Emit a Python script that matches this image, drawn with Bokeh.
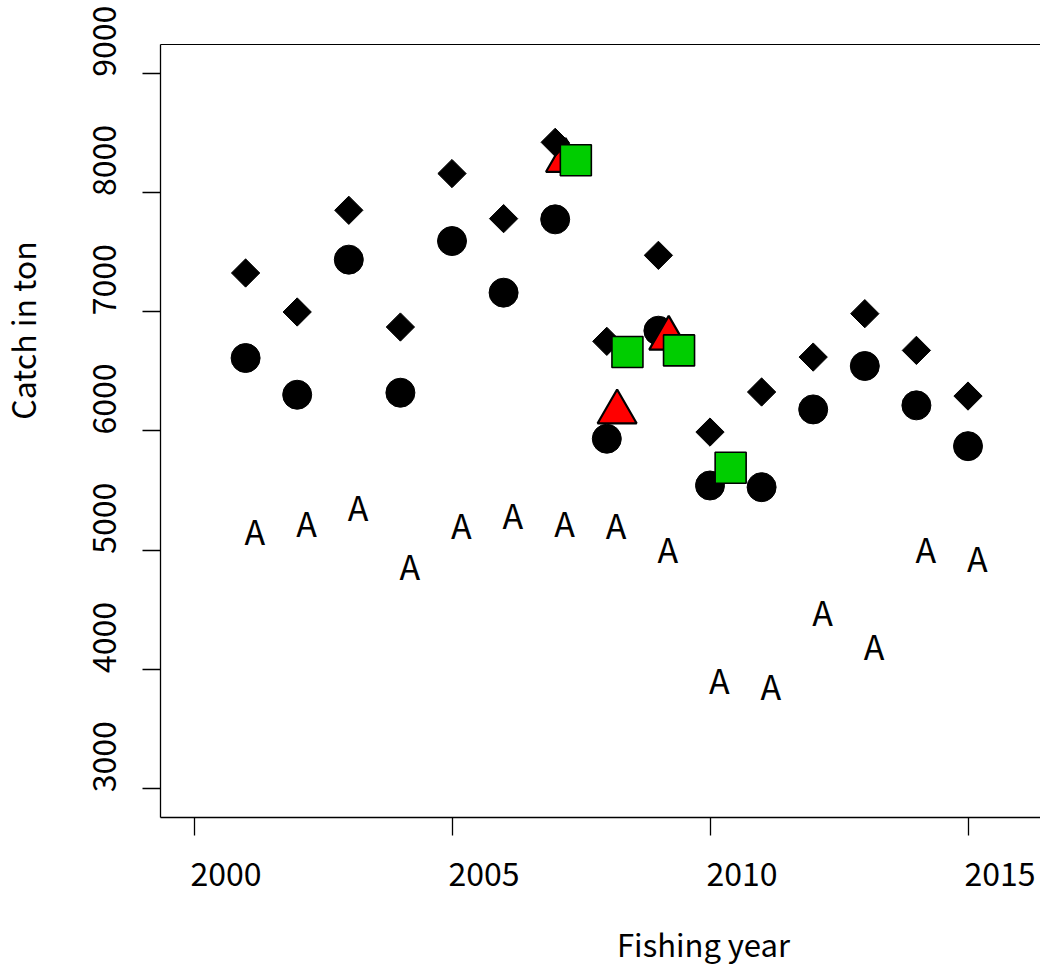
import math
from bokeh.plotting import figure
from bokeh.models import (Range1d, FixedTicker, LinearAxis, Label, ColumnDataSource,
                          CustomJSTickFormatter)
from bokeh.core.properties import value
from bokeh.embed import file_html
from bokeh.resources import INLINE

# ---- data ----
years = [2001, 2002, 2003, 2004, 2005, 2006, 2007, 2008, 2009, 2010, 2011, 2012, 2013, 2014, 2015]
diamond_catch = [7324, 6997, 7850, 6871, 8158, 7780, 8420, 6751, 7472, 5990, 6326, 6619, 6983, 6675, 6292]
circle_catch = [6611, 6303, 7436, 6320, 7592, 7159, 7774, 5934, 6840, 5542, 5528, 6180, 6544, 6214, 5872]
a_catch = [5137, 5205, 5337, 4843, 5188, 5270, 5205, 5188, 4990, 3894, 3843, 4464, 4171, 4990, 4909]
tri_years = [2007, 2008, 2009]
tri_catch = [8267, 6158, 6776]
sq_years = [2007, 2008, 2009, 2010]
sq_catch = [8270, 6661, 6675, 5691]
x_ticks = [2000, 2005, 2010, 2015]
y_ticks = [3000, 4000, 5000, 6000, 7000, 8000, 9000]

# horizontal dodge of the series (years)
tri_shift = 0.2
sq_shift = 0.4

# plot box (R usr limits: xlim 2000-2016, ylim 3000-9000 with 4% expansion)
box_x0, box_x1 = 1999.36, 2016.405
box_y0, box_y1 = 2760, 9240

# tick labels in the reference start at the tick (not centred on it)
x_lab_shift = 0.62     # years
y_lab_shift = 565.0    # tons

FONT = "Noto Sans CJK JP"

p = figure(width=1040, height=973, title=None,
           x_range=Range1d(1996.250, 2016.405), y_range=Range1d(1449.4, 9609.3),
           output_backend="svg", toolbar_location=None,
           min_border_left=0, min_border_right=0, min_border_top=0, min_border_bottom=0)
p.xgrid.visible = False
p.ygrid.visible = False
p.outline_line_color = None
p.background_fill_color = "white"
p.border_fill_color = "white"


def style_axis(ax):
    ax.axis_line_color = "black"
    ax.axis_line_width = 1.3
    ax.major_tick_line_color = "black"
    ax.major_tick_line_width = 1.3
    ax.major_tick_out = 18
    ax.major_tick_in = 0
    ax.minor_tick_out = 0
    ax.minor_tick_in = 0
    ax.major_label_text_font = FONT
    ax.major_label_text_font_size = "32px"
    ax.major_label_text_color = "black"


# main axes: line + tick marks
xa = p.xaxis[0]
style_axis(xa)
xa.ticker = FixedTicker(ticks=x_ticks)
xa.fixed_location = box_y0
xa.bounds = (box_x0, box_x1)
xa.major_label_text_color = None

ya = p.yaxis[0]
style_axis(ya)
ya.ticker = FixedTicker(ticks=y_ticks)
ya.fixed_location = box_x0
ya.bounds = (box_y0, box_y1)
ya.major_label_text_color = None

# tick-label axes (labels start at the tick, like the reference)
xl = LinearAxis(ticker=FixedTicker(ticks=[t + x_lab_shift for t in x_ticks]),
                formatter=CustomJSTickFormatter(code="return String(Math.round(tick - %r));" % x_lab_shift),
                fixed_location=box_y0)
style_axis(xl)
xl.axis_line_color = None
xl.major_tick_line_color = None
xl.major_label_standoff = 27
p.add_layout(xl, "below")

yl = LinearAxis(ticker=FixedTicker(ticks=[t + y_lab_shift for t in y_ticks]),
                formatter=CustomJSTickFormatter(code="return String(Math.round((tick - %r)/1000)*1000);" % y_lab_shift),
                fixed_location=box_x0)
style_axis(yl)
yl.axis_line_color = None
yl.major_tick_line_color = None
yl.major_label_orientation = math.pi / 2
yl.major_label_standoff = 39
p.add_layout(yl, "left")

top = LinearAxis(ticker=FixedTicker(ticks=[]), fixed_location=box_y1, bounds=(box_x0, box_x1),
                 major_tick_out=0, major_tick_in=0, minor_tick_out=0, minor_tick_in=0,
                 major_label_text_font_size="0px", axis_line_color="black", axis_line_width=1)
p.add_layout(top, "above")

# circles
p.scatter(years, circle_catch, marker="circle", size=29, fill_color="black", line_color="black")
# triangles
p.scatter([y + tri_shift for y in tri_years], tri_catch, marker="triangle", size=39,
          fill_color="#FF0000", line_color="black", line_width=2.2)
# diamonds
p.scatter(years, diamond_catch, marker="square", angle=math.pi / 4, size=20,
          fill_color="black", line_color="black")
# squares
p.scatter([y + sq_shift for y in sq_years], sq_catch, marker="square", size=31,
          fill_color="#00CD00", line_color="black", line_width=1.6)
# "A" characters (left-aligned at the year)
src = ColumnDataSource(dict(x=years, y=a_catch, t=["A"] * len(years)))
p.text(x="x", y="y", text="t", source=src, text_font=value(FONT), text_font_size="34px",
       text_align="left", text_baseline="middle", x_offset=-1, y_offset=-3, text_color="black")

# axis titles
p.add_layout(Label(x=1996.676, y=6841.8, text="Catch in ton", angle=math.pi / 2,
                   text_font=FONT, text_font_size="32px", text_align="center",
                   text_baseline="middle", text_color="black"))
p.add_layout(Label(x=2009.874, y=1700, text="Fishing year",
                   text_font=FONT, text_font_size="31px", text_align="center",
                   text_baseline="middle", text_color="black"))

open("out.html", "w").write(file_html(p, INLINE))
